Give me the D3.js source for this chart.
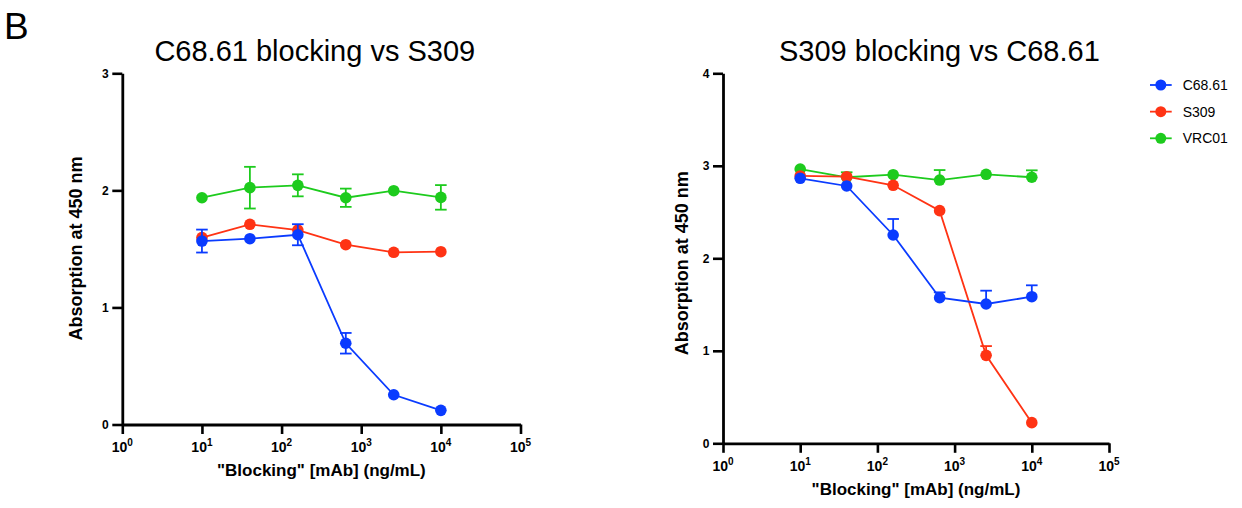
<!DOCTYPE html>
<html>
<head>
<meta charset="utf-8">
<script src="https://cdn.jsdelivr.net/npm/d3@7"></script>
<style>
  html, body { margin: 0; padding: 0; background: #fff; }
  svg text { font-family: "Liberation Sans", Arial, Helvetica, sans-serif; fill: #000; }
</style>
</head>
<body>
<svg id="fig" width="1242" height="508"></svg>
<script>
// Blocking antibody concentrations (ng/mL), 4-fold dilution series
const concentrations = [10, 40, 160, 640, 2560, 10000];
const xTickExponents = [0, 1, 2, 3, 4, 5];

const seriesNames = ["C68.61", "S309", "VRC01"];
const seriesColors = ["#0A3BFF", "#FF3314", "#1DCB1D"];

// Panel 1: C68.61 blocking vs S309 — mean absorbance and SD
const p1_C6861 = [1.567, 1.587, 1.621, 0.694, 0.254, 0.121];
const p1_C6861_sd = [0.098, 0, 0.09, 0.088, 0, 0];
const p1_S309 = [1.596, 1.71, 1.661, 1.536, 1.471, 1.476];
const p1_S309_sd = [0, 0, 0, 0, 0, 0];
const p1_VRC01 = [1.937, 2.023, 2.043, 1.937, 1.997, 1.94];
const p1_VRC01_sd = [0, 0.178, 0.094, 0.078, 0, 0.105];
const p1_yTicks = [0, 1, 2, 3];

// Panel 2: S309 blocking vs C68.61 — mean absorbance and SD (drawn upward)
const p2_C6861 = [2.865, 2.782, 2.252, 1.574, 1.506, 1.585];
const p2_C6861_sd = [0, 0, 0.173, 0.058, 0.144, 0.123];
const p2_S309 = [2.89, 2.882, 2.789, 2.515, 0.951, 0.223];
const p2_S309_sd = [0, 0, 0, 0, 0.1, 0];
const p2_VRC01 = [2.965, 2.876, 2.904, 2.846, 2.908, 2.876];
const p2_VRC01_sd = [0, 0.054, 0, 0.108, 0, 0.075];
const p2_yTicks = [0, 1, 2, 3, 4];

const svg = d3.select("#fig");

svg.append("text")
  .attr("x", 4).attr("y", 39)
  .style("font-size", "37px")
  .text("B");

function drawPanel(cfg) {
  const x = d3.scaleLog().domain([1, 1e5]).range([cfg.x0, cfg.x1]);
  const y = d3.scaleLinear().domain([0, cfg.yMax]).range([cfg.y0, cfg.y1]);
  const g = svg.append("g");

  // title
  g.append("text")
    .attr("x", cfg.titleX).attr("y", 60.7)
    .attr("text-anchor", "middle")
    .style("font-size", "29px")
    .text(cfg.title);

  // series: lines, error bars, markers (green under red under blue)
  const order = [2, 1, 0];
  order.forEach(i => {
    const vals = cfg.values[i];
    const sds = cfg.sds[i];
    const col = seriesColors[i];
    const pts = concentrations.map((c, k) => ({ c, v: vals[k], sd: sds[k] }));
    const line = d3.line().x(d => x(d.c)).y(d => y(d.v));
    g.append("path")
      .datum(pts)
      .attr("d", line)
      .attr("fill", "none")
      .attr("stroke", col)
      .attr("stroke-width", 1.8);
    const eb = g.append("g").attr("stroke", col).attr("stroke-width", 1.8).attr("fill", "none");
    pts.filter(d => d.sd > 0).forEach(d => {
      const top = y(d.v + d.sd);
      const bot = cfg.upOnly ? y(d.v) : y(d.v - d.sd);
      const cx = x(d.c);
      eb.append("line").attr("x1", cx).attr("x2", cx).attr("y1", top).attr("y2", bot);
      eb.append("line").attr("x1", cx - 5.8).attr("x2", cx + 5.8).attr("y1", top).attr("y2", top);
      if (!cfg.upOnly) {
        eb.append("line").attr("x1", cx - 5.8).attr("x2", cx + 5.8).attr("y1", bot).attr("y2", bot);
      }
    });
    g.append("g").selectAll("circle")
      .data(pts).join("circle")
      .attr("cx", d => x(d.c)).attr("cy", d => y(d.v))
      .attr("r", 5.8)
      .attr("fill", col);
  });

  // axes
  const xAxis = g.append("g")
    .attr("transform", `translate(0,${cfg.y0})`)
    .call(d3.axisBottom(x)
      .tickValues(xTickExponents.map(e => Math.pow(10, e)))
      .tickFormat(() => "")
      .tickSize(9.5)
      .tickSizeOuter(0));
  const yAxis = g.append("g")
    .attr("transform", `translate(${cfg.x0},0)`)
    .call(d3.axisLeft(y)
      .tickValues(cfg.yTicks)
      .tickFormat(d3.format("d"))
      .tickSize(10)
      .tickSizeOuter(0)
      .tickPadding(3.5));
  [xAxis, yAxis].forEach(a => {
    a.select(".domain").attr("stroke", "#000").attr("stroke-width", 2.8);
    a.selectAll(".tick line").attr("stroke", "#000").attr("stroke-width", 2.6);
  });
  yAxis.selectAll(".tick text")
    .style("font-size", "12px").style("font-weight", "bold")
    .attr("fill", "#000");

  // power-of-ten tick labels
  xTickExponents.forEach(e => {
    const t = xAxis.append("text")
      .attr("x", x(Math.pow(10, e)))
      .attr("y", 27.8)
      .attr("text-anchor", "middle")
      .style("font-size", "14px").style("font-weight", "bold");
    t.append("tspan").text("10");
    t.append("tspan").attr("dy", -6).style("font-size", "10px").text(e);
  });

  // axis titles
  g.append("text")
    .attr("x", (cfg.x0 + cfg.x1) / 2).attr("y", cfg.y0 + 51.5)
    .attr("text-anchor", "middle")
    .style("font-size", "17px").style("font-weight", "bold")
    .text("\"Blocking\" [mAb] (ng/mL)");
  g.append("text")
    .attr("transform", `translate(${cfg.yLabelX},${cfg.yLabelY}) rotate(-90)`)
    .attr("text-anchor", "middle")
    .style("font-size", "18px").style("font-weight", "bold")
    .text("Absorption at 450 nm");
}

drawPanel({
  title: "C68.61 blocking vs S309", titleX: 314.8,
  x0: 122.3, x1: 520.5, y0: 424.5, y1: 73.3, yMax: 3,
  yTicks: p1_yTicks, upOnly: false,
  yLabelX: 81.5, yLabelY: 248.5,
  values: [p1_C6861, p1_S309, p1_VRC01],
  sds: [p1_C6861_sd, p1_S309_sd, p1_VRC01_sd]
});

drawPanel({
  title: "S309 blocking vs C68.61", titleX: 939.4,
  x0: 723, x1: 1109, y0: 443.3, y1: 73.3, yMax: 4,
  yTicks: p2_yTicks, upOnly: true,
  yLabelX: 688, yLabelY: 263.3,
  values: [p2_C6861, p2_S309, p2_VRC01],
  sds: [p2_C6861_sd, p2_S309_sd, p2_VRC01_sd]
});

// legend
const legend = svg.append("g");
seriesNames.forEach((name, i) => {
  const cy = 85 + i * 26.65;
  legend.append("line")
    .attr("x1", 1150).attr("x2", 1171.7).attr("y1", cy).attr("y2", cy)
    .attr("stroke", seriesColors[i]).attr("stroke-width", 1.8);
  legend.append("circle")
    .attr("cx", 1160.8).attr("cy", cy).attr("r", 5.5)
    .attr("fill", seriesColors[i]);
  legend.append("text")
    .attr("x", 1182.7).attr("y", cy + 5)
    .style("font-size", "14px")
    .text(name);
});
</script>
</body>
</html>
